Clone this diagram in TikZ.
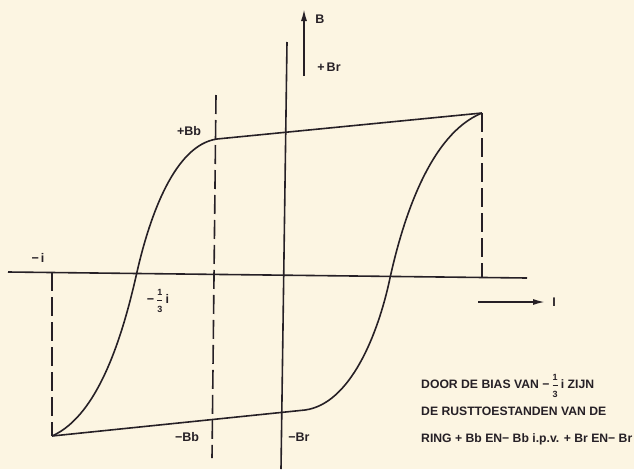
\documentclass[tikz,border=0pt]{standalone}
\usepackage{amsmath}
\usepackage{fontspec}
\setmainfont{Liberation Sans}
\usetikzlibrary{arrows.meta}
\definecolor{paper}{RGB}{252,245,226}
\definecolor{ink}{RGB}{38,32,38}
\newcommand{\thirdfrac}{\ensuremath{\genfrac{}{}{1pt}{0}{\mbox{\small\bfseries 1}}{\mbox{\small\bfseries 3}}}}
\begin{document}
\begin{tikzpicture}[x=1pt,y=-1pt,
  ink line/.style={draw=ink,line width=1.6pt},
  dash line/.style={draw=ink,line width=1.6pt,dash pattern=on 19pt off 6pt},
  lbl/.style={text=ink,font=\bfseries\fontsize{12.5}{15}\selectfont,inner sep=0pt},
  note/.style={text=ink,font=\bfseries\fontsize{12.2}{15}\selectfont,inner sep=0pt,anchor=west},
  tip/.style={-{Latex[length=12pt,width=6pt]}}]
\fill[paper] (0,0) rectangle (634,469);
\useasboundingbox (0,0) rectangle (634,469);
% key points
\coordinate (xl) at (8,272);
\coordinate (xr) at (527,278);
\coordinate (yt) at (287,42);
\coordinate (yb) at (281,469);
\coordinate (UR) at (482,113);
\coordinate (UK) at (217,139);
\coordinate (UX) at (137,272);
\coordinate (LL) at (52,436);
\coordinate (LK) at (305,410);
\coordinate (LX) at (390,278);
\coordinate (mt) at (216,95);
\coordinate (mb) at (212,458);
\coordinate (rb) at (482,278);
\coordinate (lt) at (52,272);
% axes
\draw[ink line] (xl) -- (xr);
\draw[ink line] (yt) -- (yb);
% dashed lines
\draw[dash line] (mt) -- (mb);
\draw[dash line] (UR) -- (rb);
\draw[dash line] (lt) -- (LL);
% upper branch
\draw[ink line,line join=round] (UR) -- (UK)
  .. controls (175,145) and (150,215) .. (UX)
  .. controls (124,330) and (100,415) .. (LL);
% lower branch
\draw[ink line,line join=round] (LL) -- (LK)
  .. controls (350,404) and (378,335) .. (LX)
  .. controls (403,219) and (430,134) .. (UR);
% B arrow
\coordinate (bb) at (304,76);
\coordinate (bt) at (304,9);
\draw[ink line,tip] (bb) -- (bt);
% I arrow
\coordinate (ia) at (478,302);
\coordinate (ib) at (545,302);
\draw[ink line,tip] (ia) -- (ib);
% labels
\node[lbl] (lB) at (320,19) {B};
\node[lbl] (lBr) at (329,67) {+\,Br};
\node[lbl] (lI) at (554,302) {I};
\node[lbl] (lBb) at (189,131) {+Bb};
\node[lbl] (li) at (38,258) {−\,i};
\node[lbl] (lthird) at (158,301) {−\,\thirdfrac\,i};
\node[lbl] (lmBb) at (187,437) {−Bb};
\node[lbl] (lmBr) at (299,437) {−Br};
% note
\node[note] (n1) at (421,386) {DOOR DE BIAS VAN −\,\thirdfrac\,i ZIJN};
\node[note] (n2) at (421,411) {DE RUSTTOESTANDEN VAN DE};
\node[note] (n3) at (421,439) {RING + Bb EN− Bb i.p.v. + Br EN− Br};
\end{tikzpicture}
\end{document}
